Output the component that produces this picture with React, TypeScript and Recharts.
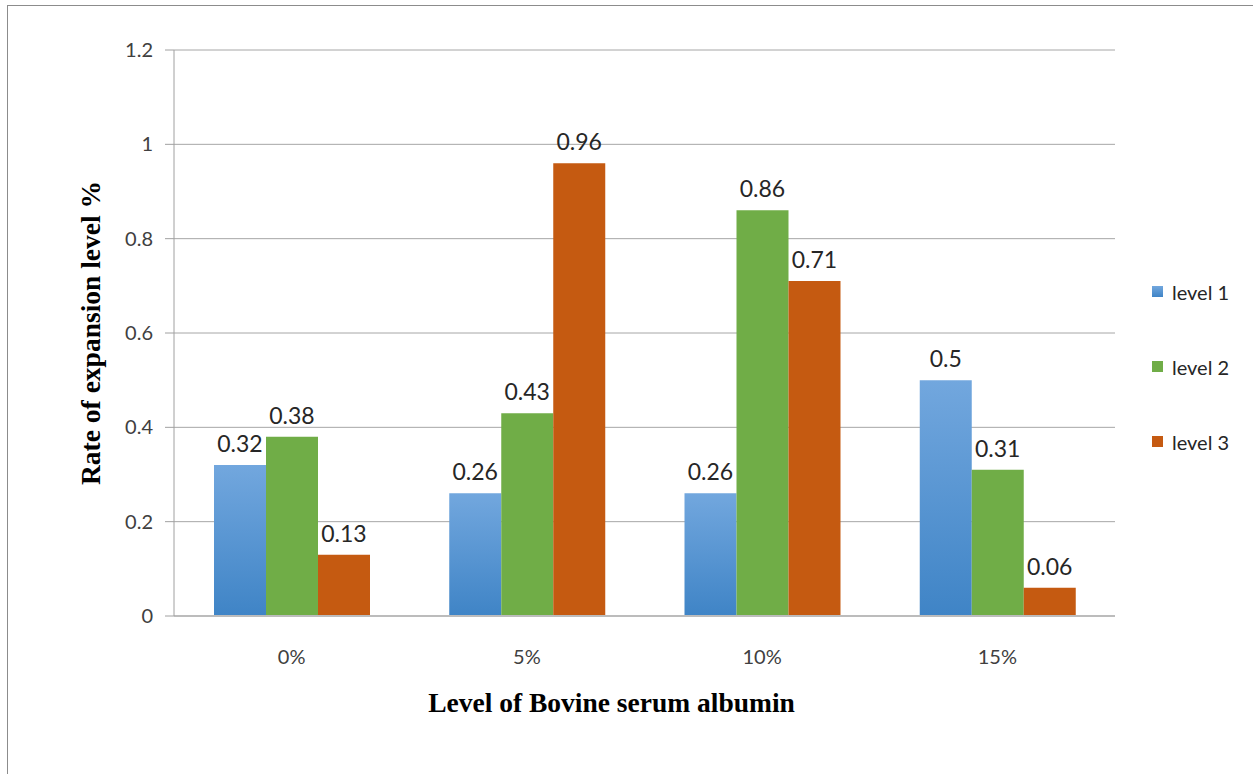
import { BarChart, Bar, XAxis, YAxis, CartesianGrid, Legend, LabelList } from "recharts";

// Albumin concentration groups and the expansion rate for each level
const categories = ["0%", "5%", "10%", "15%"];
const level1 = [0.32, 0.26, 0.26, 0.5];
const level2 = [0.38, 0.43, 0.86, 0.31];
const level3 = [0.13, 0.96, 0.71, 0.06];
const seriesNames = ["level 1", "level 2", "level 3"];
const yTicks = [0, 0.2, 0.4, 0.6, 0.8, 1, 1.2];

const data = categories.map((name, i) => ({
  name,
  l1: level1[i],
  l2: level2[i],
  l3: level3[i],
}));

const labelFont = "Lato, 'Open Sans', sans-serif";
const titleFont = "'Liberation Serif', 'Times New Roman', serif";
const valueStyle = { fontFamily: labelFont, fontSize: 23, fill: "#262626" };

function LegendBox(props: any) {
  const items = props.payload || [];
  return (
    <div style={{ width: 100 }}>
      {items.map((it: any) => (
        <div
          key={it.value}
          style={{ height: 75, display: "flex", alignItems: "center", fontFamily: labelFont, fontSize: 20, color: "#262626" }}
        >
          <svg width={11} height={11} style={{ marginRight: 9 }}>
            <rect width={11} height={11} fill={it.color} />
          </svg>
          <span>{it.value}</span>
        </div>
      ))}
    </div>
  );
}

export default function App() {
  return (
    <div
      style={{
        position: "absolute",
        left: 7,
        top: 5,
        width: 1246,
        height: 768,
        border: "1px solid #8c8c8c",
        background: "#fff",
      }}
    >
      <BarChart
        width={1244}
        height={766}
        data={data}
        barSize={52}
        barGap={0}
        margin={{ top: 44, right: 37, left: 106, bottom: 126 }}
      >
        <defs>
          <linearGradient id="blueFill" x1="0" y1="0" x2="0" y2="1">
            <stop offset="0%" stopColor="#72a7de" />
            <stop offset="100%" stopColor="#3f84c6" />
          </linearGradient>
        </defs>
        <CartesianGrid vertical={false} stroke="#a6a6a6" />
        <XAxis
          dataKey="name"
          height={30}
          axisLine={{ stroke: "#bcbcbc", strokeWidth: 2 }}
          tickLine={false}
          tickSize={0}
          tickMargin={34}
          tick={{ fontFamily: labelFont, fontSize: 20, fill: "#404040" }}
          label={{
            value: "Level of Bovine serum albumin",
            position: "bottom",
            offset: 46,
            dx: -33,
            style: { fontFamily: titleFont, fontWeight: "bold", fontSize: 27.5, fill: "#000" },
          }}
        />
        <YAxis
          width={60}
          domain={[0, 1.2]}
          ticks={yTicks}
          interval={0}
          axisLine={{ stroke: "#a0a0a0" }}
          tickLine={{ stroke: "#a0a0a0" }}
          tickSize={9}
          tickMargin={12}
          tick={{ fontFamily: labelFont, fontSize: 20, fill: "#404040" }}
          label={{
            value: "Rate of expansion level %",
            angle: -90,
            position: "center",
            dx: -54,
            style: { fontFamily: titleFont, fontWeight: "bold", fontSize: 27.5, fill: "#000" },
          }}
        />
        <Legend
          layout="vertical"
          align="right"
          verticalAlign="middle"
          width={100}
          content={LegendBox}
          wrapperStyle={{ left: 1144, top: 248, right: "auto" }}
        />
        <Bar dataKey="l1" name={seriesNames[0]} fill="url(#blueFill)" isAnimationActive={false}>
          <LabelList dataKey="l1" position="top" offset={13} style={valueStyle} />
        </Bar>
        <Bar dataKey="l2" name={seriesNames[1]} fill="#70ad47" isAnimationActive={false}>
          <LabelList dataKey="l2" position="top" offset={13} style={valueStyle} />
        </Bar>
        <Bar dataKey="l3" name={seriesNames[2]} fill="#c55a11" isAnimationActive={false}>
          <LabelList dataKey="l3" position="top" offset={13} style={valueStyle} />
        </Bar>
      </BarChart>
    </div>
  );
}
